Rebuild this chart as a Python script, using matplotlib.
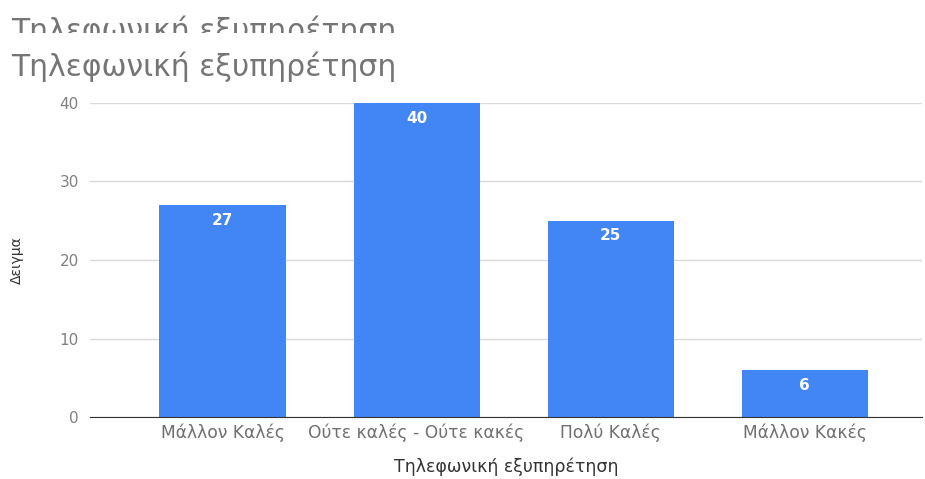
import matplotlib.pyplot as plt
from matplotlib.transforms import Bbox, TransformedBbox

# Αποτελέσματα ερωτηματολογίου
κατηγορίες = ["Μάλλον Καλές", "Ούτε καλές - Ούτε κακές", "Πολύ Καλές", "Μάλλον Κακές"]
δείγμα = [27, 40, 25, 6]
τίτλος = "Τηλεφωνική εξυπηρέτηση"

plt.rcParams['font.family'] = ['DejaVu Sans']

fig = plt.figure(figsize=(9.25, 4.79), dpi=100)
ax = fig.add_axes([0.0973, 0.1294, 0.8997, 0.6556])

θέσεις = range(len(κατηγορίες))
ax.bar(θέσεις, δείγμα, width=0.65, color='#4285f4', zorder=3)

for x, v in zip(θέσεις, δείγμα):
    ax.annotate(str(v), (x, v), xytext=(0, -5.5), textcoords='offset points',
                ha='center', va='top', color='white', fontsize=11, fontweight='bold', zorder=4)

ax.set_xlim(-0.683, 3.606)
ax.set_ylim(0, 40)
ax.set_yticks([0, 10, 20, 30, 40])
ax.yaxis.grid(True, color='#d9d9d9', linewidth=1, zorder=0)
ax.set_xticks(list(θέσεις))
ax.set_xticklabels(κατηγορίες, fontsize=12.3, color='#707070')
ax.tick_params(axis='y', labelsize=11, labelcolor='#808080', length=0, pad=8)
ax.tick_params(axis='x', length=0, pad=5)

for s in ['top', 'right', 'left']:
    ax.spines[s].set_visible(False)
ax.spines['bottom'].set_color('#333333')
ax.spines['bottom'].set_zorder(5)

ax.set_xlabel(τίτλος, fontsize=12.5, color='#333333', labelpad=11)
ax.set_ylabel("Δειγμα", fontsize=10, color='#333333', labelpad=26)

# τίτλος γραφήματος και η κομμένη επανάληψή του από πάνω
fig.text(0.012, 1 - 76 / 479, τίτλος, fontsize=21.5, color='#757575', va='baseline')
πάνω = fig.text(0.012, 1 - 40 / 479, τίτλος, fontsize=21.5, color='#757575', va='baseline')
πάνω.set_clip_box(TransformedBbox(Bbox([[0, 1 - 33 / 479], [1, 1]]), fig.transFigure))
πάνω.set_clip_on(True)

fig.savefig('out.png', dpi=100)
